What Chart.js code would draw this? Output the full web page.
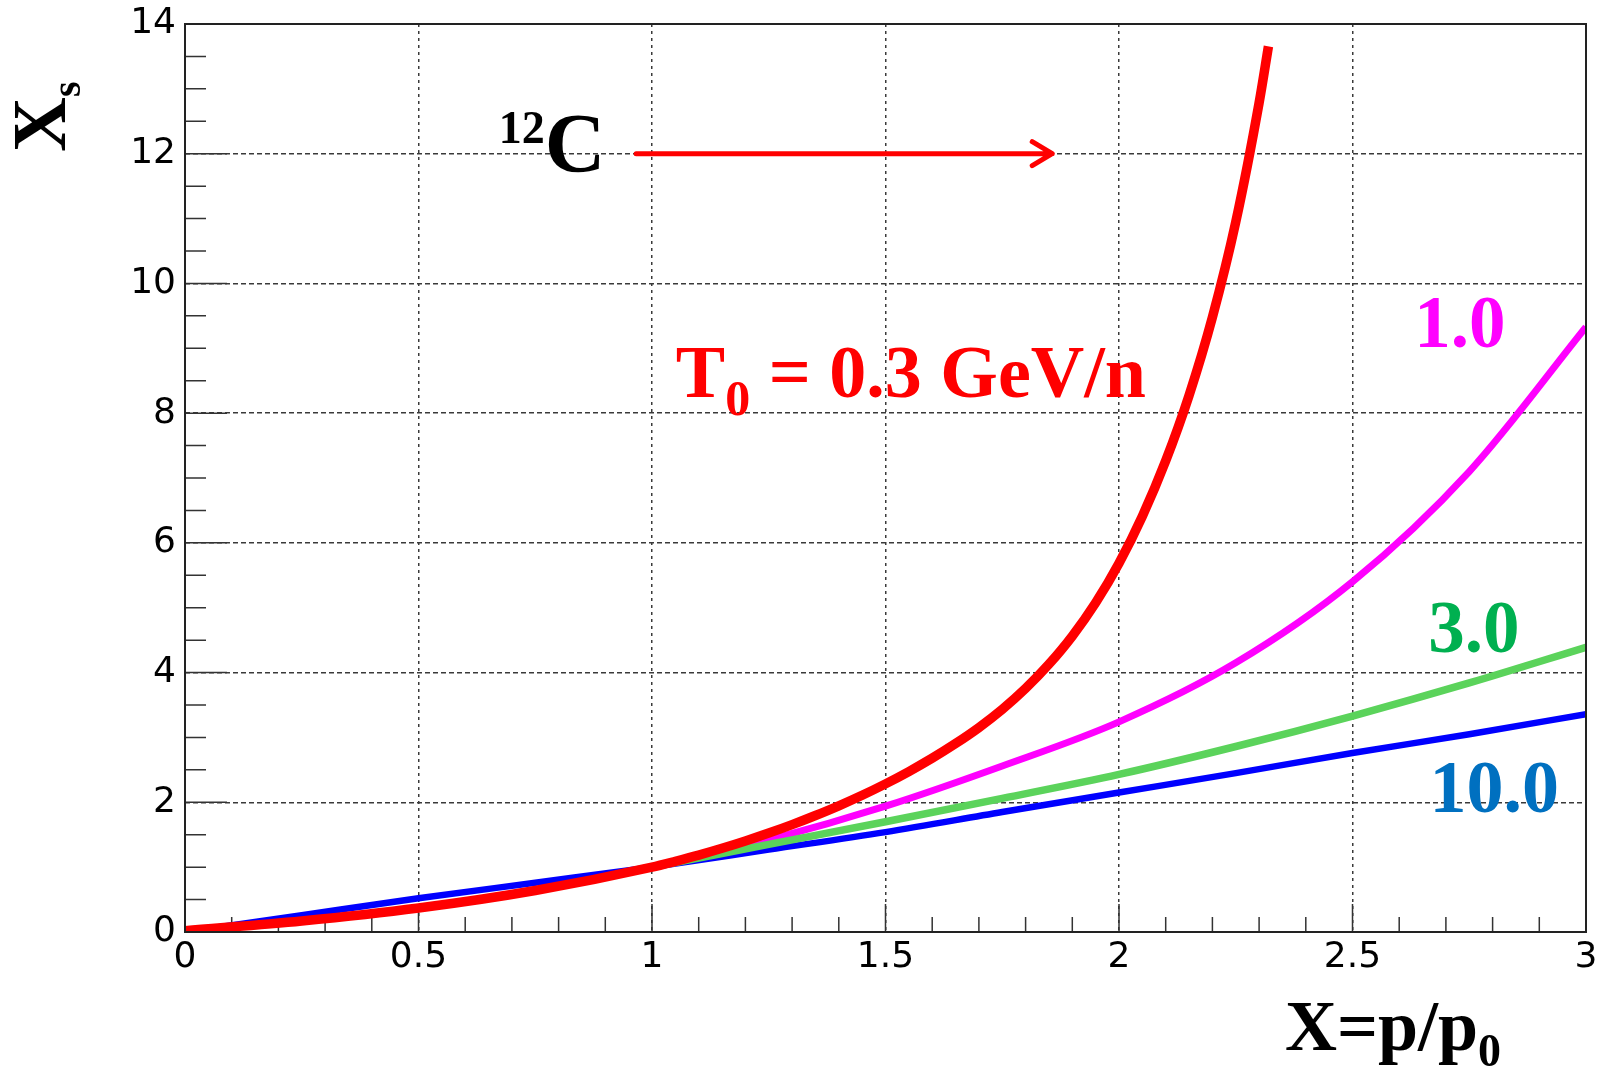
<!DOCTYPE html>
<html>
<head>
<meta charset="utf-8">
<script src="https://cdn.jsdelivr.net/npm/chart.js@4.4.0/dist/chart.umd.min.js"></script>
<style>
  html, body { margin: 0; padding: 0; background: #fff; }
  #wrap { width: 1602px; height: 1071px; }
</style>
</head>
<body>
<div id="wrap"><canvas id="chart" width="1602" height="1071"></canvas></div>
<script>
// -----------------------------
// DATA
// -----------------------------
// T0 = 0.3 GeV/n (red)
const redX = [0, 0.25, 0.5, 0.75, 1,
  1.05, 1.1, 1.15, 1.2, 1.25, 1.3, 1.35, 1.4, 1.45, 1.5, 1.55, 1.6, 1.65, 1.7, 1.75,
  1.8, 1.85, 1.9, 1.95, 2.0, 2.05, 2.1, 2.15, 2.2, 2.25, 2.3, 2.32];
const redY = [0.02, 0.17, 0.37, 0.64, 1,
  1.09, 1.186, 1.291, 1.404, 1.525, 1.655, 1.796, 1.946, 2.108, 2.284, 2.474, 2.68, 2.905, 3.152, 3.432,
  3.755, 4.129, 4.563, 5.076, 5.686, 6.411, 7.265, 8.273, 9.478, 10.946, 12.783, 13.655];
// T0 = 1.0 GeV/n (magenta)
const magentaX = [1, 1.25, 1.5, 1.75, 2.0, 2.25, 2.5, 2.75, 3.0];
const magentaY = [1, 1.42, 1.94, 2.56, 3.24, 4.15, 5.4, 7.1, 9.33];
// T0 = 3.0 GeV/n (green)
const greenX = [1, 1.25, 1.5, 1.75, 2.0, 2.25, 2.5, 2.75, 3.0];
const greenY = [1, 1.35, 1.7, 2.06, 2.43, 2.86, 3.33, 3.84, 4.39];
// T0 = 10.0 GeV/n (blue)
const blueX = [0, 0.25, 0.5, 0.75, 1, 1.25, 1.5, 1.75, 2.0, 2.25, 2.5, 2.75, 3.0];
const blueY = [0, 0.26, 0.52, 0.76, 1, 1.27, 1.54, 1.85, 2.15, 2.45, 2.76, 3.05, 3.36];

const xTickLabels = ["0", "0.5", "1", "1.5", "2", "2.5", "3"];
const yTickLabels = ["0", "2", "4", "6", "8", "10", "12", "14"];
const xMinorStep = 0.1;
const yMinorStep = 0.5;

// arrow next to the 12C label, in data units
const arrowFrom = [0.966, 12];
const arrowTo = [1.857, 12];

const toPoints = (xs, ys) => xs.map((x, i) => ({ x: x, y: ys[i] }));

// -----------------------------
// helpers
// -----------------------------
const serif = '"Liberation Serif", "Times New Roman", serif';

// draw a run of text pieces one after the other (for sub/superscripts)
function drawRuns(ctx, x, y, runs) {
  let cx = x;
  runs.forEach(r => {
    ctx.font = "bold " + r.size + "px " + serif;
    ctx.fillStyle = r.color || "#000";
    ctx.fillText(r.text, cx, y + (r.dy || 0));
    cx += ctx.measureText(r.text).width + (r.gap || 0);
  });
}

// ticks inside the frame, frame, labels, arrow
const rootStyle = {
  id: "rootStyle",
  beforeDatasetsDraw(chart) {
    const { ctx, chartArea: a, scales: { x, y } } = chart;
    ctx.save();
    ctx.strokeStyle = "#333";
    ctx.lineWidth = 1.5;
    ctx.beginPath();
    const nx = Math.round((x.max - x.min) / xMinorStep);
    for (let i = 0; i <= nx; i++) {
      const px = x.getPixelForValue(x.min + i * xMinorStep);
      const len = i % 5 === 0 ? 28 : 15;
      ctx.moveTo(px, a.bottom);
      ctx.lineTo(px, a.bottom - len);
    }
    const ny = Math.round((y.max - y.min) / yMinorStep);
    for (let i = 0; i <= ny; i++) {
      const py = y.getPixelForValue(y.min + i * yMinorStep);
      const len = i % 4 === 0 ? 42 : 21;
      ctx.moveTo(a.left, py);
      ctx.lineTo(a.left + len, py);
    }
    ctx.stroke();
    ctx.restore();
  },
  afterDraw(chart) {
    const { ctx, chartArea: a, scales: { x, y } } = chart;
    ctx.save();

    // frame
    ctx.strokeStyle = "#222";
    ctx.lineWidth = 2;
    ctx.strokeRect(a.left, a.top, a.right - a.left, a.bottom - a.top);

    // arrow
    const x1 = x.getPixelForValue(arrowFrom[0]), y1 = y.getPixelForValue(arrowFrom[1]);
    const x2 = x.getPixelForValue(arrowTo[0]), y2 = y.getPixelForValue(arrowTo[1]);
    ctx.strokeStyle = "#ff0000";
    ctx.lineWidth = 5;
    ctx.lineCap = "round";
    ctx.lineJoin = "round";
    ctx.beginPath();
    ctx.moveTo(x1, y1);
    ctx.lineTo(x2, y2);
    ctx.moveTo(x2 - 20, y2 - 12);
    ctx.lineTo(x2, y2);
    ctx.lineTo(x2 - 20, y2 + 12);
    ctx.stroke();

    ctx.textAlign = "left";
    ctx.textBaseline = "alphabetic";

    // 12C
    drawRuns(ctx, x.getPixelForValue(0.672), y.getPixelForValue(11.72), [
      { text: "12", size: 46, dy: -29 },
      { text: "C", size: 84 }
    ]);

    // T0 = 0.3 GeV/n
    drawRuns(ctx, x.getPixelForValue(1.051), y.getPixelForValue(8.25), [
      { text: "T", size: 74, color: "#ff0000" },
      { text: "0", size: 50, dy: 18, color: "#ff0000" },
      { text: " = 0.3 GeV/n", size: 74, color: "#ff0000" }
    ]);

    // curve labels
    drawRuns(ctx, x.getPixelForValue(2.632), y.getPixelForValue(9.02), [{ text: "1.0", size: 73, color: "#ff00ff" }]);
    drawRuns(ctx, x.getPixelForValue(2.662), y.getPixelForValue(4.31), [{ text: "3.0", size: 73, color: "#00b050" }]);
    drawRuns(ctx, x.getPixelForValue(2.665), y.getPixelForValue(1.85), [{ text: "10.0", size: 74, color: "#0070c0" }]);

    // x axis title
    drawRuns(ctx, 1285, 1050, [
      { text: "X=p/p", size: 72 },
      { text: "0", size: 46, dy: 16 }
    ]);

    // y axis title (rotated)
    ctx.translate(65, 152);
    ctx.rotate(-Math.PI / 2);
    drawRuns(ctx, 0, 0, [
      { text: "X", size: 76 },
      { text: "s", size: 40, dy: 15 }
    ]);

    ctx.restore();
  }
};

// -----------------------------
// CHART
// -----------------------------
const tickFamily = '"DejaVu Sans", sans-serif';

new Chart(document.getElementById("chart"), {
  type: "line",
  data: {
    datasets: [
      { label: "0.3", data: toPoints(redX, redY), borderColor: "#ff0000", borderWidth: 9.5 },
      { label: "3.0", data: toPoints(greenX, greenY), borderColor: "#5bd35b", borderWidth: 7.5 },
      { label: "1.0", data: toPoints(magentaX, magentaY), borderColor: "#ff00ff", borderWidth: 7 },
      { label: "10.0", data: toPoints(blueX, blueY), borderColor: "#0000ff", borderWidth: 6.5 }
    ]
  },
  options: {
    responsive: false,
    animation: false,
    devicePixelRatio: 1,
    layout: { padding: { top: 24, right: 16, left: 0, bottom: 0 } },
    plugins: { legend: { display: false }, tooltip: { enabled: false } },
    elements: {
      point: { radius: 0 },
      line: { cubicInterpolationMode: "monotone", fill: false, borderCapStyle: "butt" }
    },
    scales: {
      x: {
        type: "linear",
        min: 0,
        max: 3,
        afterFit: s => { s.height = 139; },
        ticks: {
          stepSize: 0.5,
          padding: 4,
          color: "#000",
          font: { family: tickFamily, size: 36 },
          maxRotation: 0,
          autoSkip: false,
          callback: (v, i) => xTickLabels[i]
        },
        grid: { color: "#3a3a3a", lineWidth: 1.5, drawTicks: false },
        border: { display: false, dash: [3, 4] }
      },
      y: {
        type: "linear",
        min: 0,
        max: 14,
        afterFit: s => { s.width = 185; },
        ticks: {
          stepSize: 2,
          padding: 9,
          color: "#000",
          font: { family: tickFamily, size: 36, lineHeight: 0.75 },
          autoSkip: false,
          callback: (v, i) => yTickLabels[i]
        },
        grid: { color: "#3a3a3a", lineWidth: 1.5, drawTicks: false },
        border: { display: false, dash: [5, 3] }
      }
    }
  },
  plugins: [rootStyle]
});
</script>
</body>
</html>
